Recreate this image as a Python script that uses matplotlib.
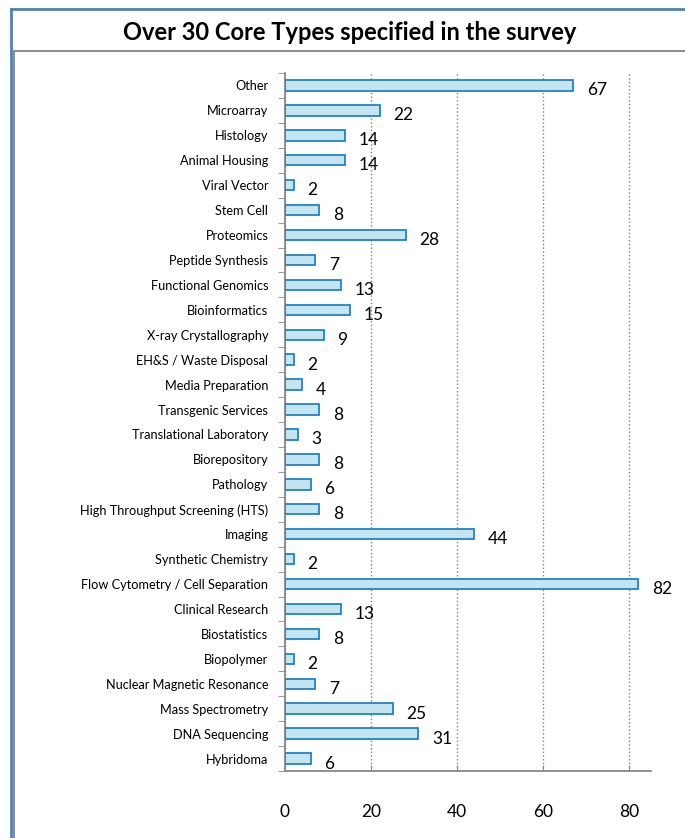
import matplotlib.pyplot as plt
from matplotlib.lines import Line2D
import numpy as np

categories = [
    'Other', 'Microarray', 'Histology', 'Animal Housing', 'Viral Vector',
    'Stem Cell', 'Proteomics', 'Peptide Synthesis', 'Functional Genomics',
    'Bioinformatics', 'X-ray Crystallography', 'EH&S / Waste Disposal',
    'Media Preparation', 'Transgenic Services', 'Translational Laboratory',
    'Biorepository', 'Pathology', 'High Throughput Screening (HTS)', 'Imaging',
    'Synthetic Chemistry', 'Flow Cytometry / Cell Separation',
    'Clinical Research', 'Biostatistics', 'Biopolymer',
    'Nuclear Magnetic Resonance', 'Mass Spectrometry', 'DNA Sequencing',
    'Hybridoma',
]
counts = [67, 22, 14, 14, 2, 8, 28, 7, 13, 15, 9, 2, 4, 8, 3, 8, 6, 8, 44, 2,
          82, 13, 8, 2, 7, 25, 31, 6]
xticks = [0, 20, 40, 60, 80]

plt.rcParams['font.family'] = ['Lato', 'DejaVu Sans']

fig = plt.figure(figsize=(6.85, 8.38), dpi=100)
W, H = 685, 838

# frame lines around the chart
fig.add_artist(Line2D([11 / W, 11 / W], [0, 1 - 9 / H], color='#4f81bd', lw=2, transform=fig.transFigure))
fig.add_artist(Line2D([11 / W, 1], [1 - 9 / H, 1 - 9 / H], color='#4f81bd', lw=2, transform=fig.transFigure))
fig.add_artist(Line2D([14 / W, 14 / W], [0, 1 - 51 / H], color='#8c8c8c', lw=1.5, transform=fig.transFigure))
fig.add_artist(Line2D([14 / W, 1], [1 - 51 / H, 1 - 51 / H], color='#8c8c8c', lw=1.5, transform=fig.transFigure))

fig.text(0.5 * (1 + 14 / W), 1 - 32 / H, 'Over 30 Core Types specified in the survey',
         ha='center', va='center', fontsize=17, fontweight='bold')

ax = fig.add_axes([285 / W, 1 - 771 / H, (651 - 285) / W, (771 - 73) / H])
y = np.arange(len(categories))
ax.barh(y, counts, height=0.42, color='#c4e4ef', edgecolor='#1f83c9', linewidth=1.3, zorder=3)
for yi, v in zip(y, counts):
    ax.text(v + 3.2, yi + 0.2, str(v), va='center', ha='left', fontsize=12.5)

ax.set_xlim(0, 85)
ax.set_ylim(len(categories) - 0.5, -0.5)
ax.set_xticks(xticks)
ax.tick_params(axis='x', direction='in', length=4, color='#888888', pad=24, labelsize=12.5)
ax.set_yticks(y)
ax.set_yticklabels(categories, fontsize=9.2)
ax.tick_params(axis='y', which='major', length=0, pad=12)
ax.set_yticks(np.arange(len(categories) + 1) - 0.5, minor=True)
ax.tick_params(axis='y', which='minor', length=5, color='#888888', direction='out')
ax.xaxis.grid(True, linestyle=':', color='#808080', linewidth=1, zorder=0)
for s in ['top', 'right']:
    ax.spines[s].set_visible(False)
for s in ['left', 'bottom']:
    ax.spines[s].set_color('#888888')
    ax.spines[s].set_linewidth(1.3)

fig.savefig('out.png', dpi=100)
